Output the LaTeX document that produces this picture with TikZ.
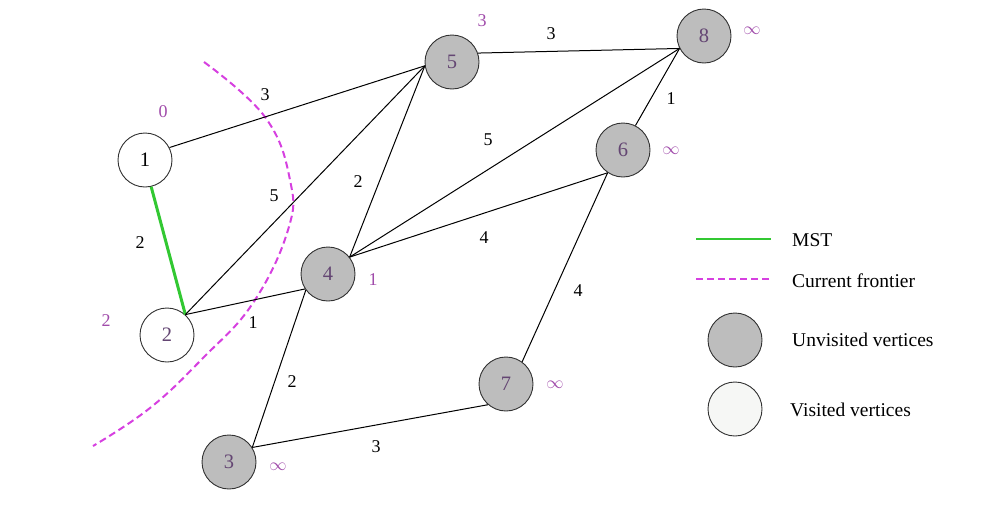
\documentclass[tikz,border=0pt]{standalone}
\usepackage{fontspec}
\setmainfont{Liberation Serif}
\definecolor{ngray}{RGB}{189,189,189}
\definecolor{ndigit}{RGB}{100,70,115}
\definecolor{distc}{RGB}{160,75,170}
\definecolor{mstc}{RGB}{50,200,50}
\definecolor{frc}{RGB}{214,64,224}
\definecolor{vborder}{RGB}{50,50,50}
\definecolor{visfill}{RGB}{246,247,245}
\tikzset{
  vtx/.style={circle, draw=vborder, line width=0.9pt, minimum size=54pt, inner sep=0pt, font=\fontsize{20.5}{20.5}\selectfont},
  unv/.style={vtx, fill=ngray, text=ndigit},
  vis/.style={vtx, fill=white},
  edge/.style={draw=black, line width=1pt},
  wt/.style={font=\fontsize{18}{18}\selectfont, inner sep=0pt},
  dist/.style={font=\fontsize{18}{18}\selectfont, text=distc, inner sep=0pt},
  mst/.style={draw=mstc, line width=3pt},
  frontier/.style={draw=frc, line width=2pt, dash pattern=on 7pt off 4pt},
  lgd/.style={anchor=west, font=\fontsize{19.5}{19.5}\selectfont, inner sep=0pt}
}
\begin{document}
\begin{tikzpicture}[x=1pt,y=-1pt]
\useasboundingbox (0,0) rectangle (1005,509);
% frontier
\draw[frontier] plot[smooth, tension=0.7] coordinates {(204,62) (265,117) (290,180) (288,230) (253,303) (203,358) (150,408) (93,446)};
% vertices
\node[vis] (n1) at (145,160) {1};
\node[vis, text=ndigit] (n2) at (167,335) {2};
\node[unv] (n3) at (229,462) {3};
\node[unv] (n4) at (328,274) {4};
\node[unv] (n5) at (452,62) {5};
\node[unv] (n6) at (623,150) {6};
\node[unv] (n7) at (506,384) {7};
\node[unv] (n8) at (704,36) {8};
% edges
\draw[mst] (n1.283) -- (n2.48);
\draw[edge] (n1.27) -- (n5.188);
\draw[edge] (n2.48) -- (n5.188);
\draw[edge] (n2.48) -- (n4.213);
\draw[edge] (n4.38) -- (n5.188);
\draw[edge] (n4.38) -- (n8.207);
\draw[edge] (n4.38) -- (n6.236);
\draw[edge] (n4.216) -- (n3.32);
\draw[edge] (n5.19) -- (n8.207);
\draw[edge] (n6.63) -- (n8.207);
\draw[edge] (n7.54) -- (n6.236);
\draw[edge] (n3.32) -- (n7.229);
% weights
\node[wt] (w15) at (265,95) {3};
\node[wt] (w12) at (140,243) {2};
\node[wt] (w25) at (274,196) {5};
\node[wt] (w45) at (358,182) {2};
\node[wt] (w24) at (253,323) {1};
\node[wt] (w48) at (488,140) {5};
\node[wt] (w46) at (484,238) {4};
\node[wt] (w58) at (551,34) {3};
\node[wt] (w68) at (671,99) {1};
\node[wt] (w67) at (578,291) {4};
\node[wt] (w43) at (292,382) {2};
\node[wt] (w37) at (376,447) {3};
% distances
\node[dist] (d1) at (163,112) {0};
\node[dist] (d2) at (106,321) {2};
\node[dist] (d4) at (373,280) {1};
\node[dist] (d5) at (482,21) {3};
\node[dist] (d8) at (752,31) {$\infty$};
\node[dist] (d6) at (671,151) {$\infty$};
\node[dist] (d7) at (555,385) {$\infty$};
\node[dist] (d3) at (278,467) {$\infty$};
% legend
\coordinate (l1a) at (696,239); \coordinate (l1b) at (771,239);
\coordinate (l2a) at (696,279); \coordinate (l2b) at (771,279);
\draw[mst, line width=2.5pt] (l1a) -- (l1b);
\draw[frontier] (l2a) -- (l2b);
\node[lgd] (t1) at (792,240) {MST};
\node[lgd] (t2) at (792,281) {Current frontier};
\node[unv] (lg1) at (735,340) {};
\node[vtx, fill=visfill] (lg2) at (735,409) {};
\node[lgd] (t3) at (792,340) {Unvisited vertices};
\node[lgd] (t4) at (790,410) {Visited vertices};
\end{tikzpicture}
\end{document}
